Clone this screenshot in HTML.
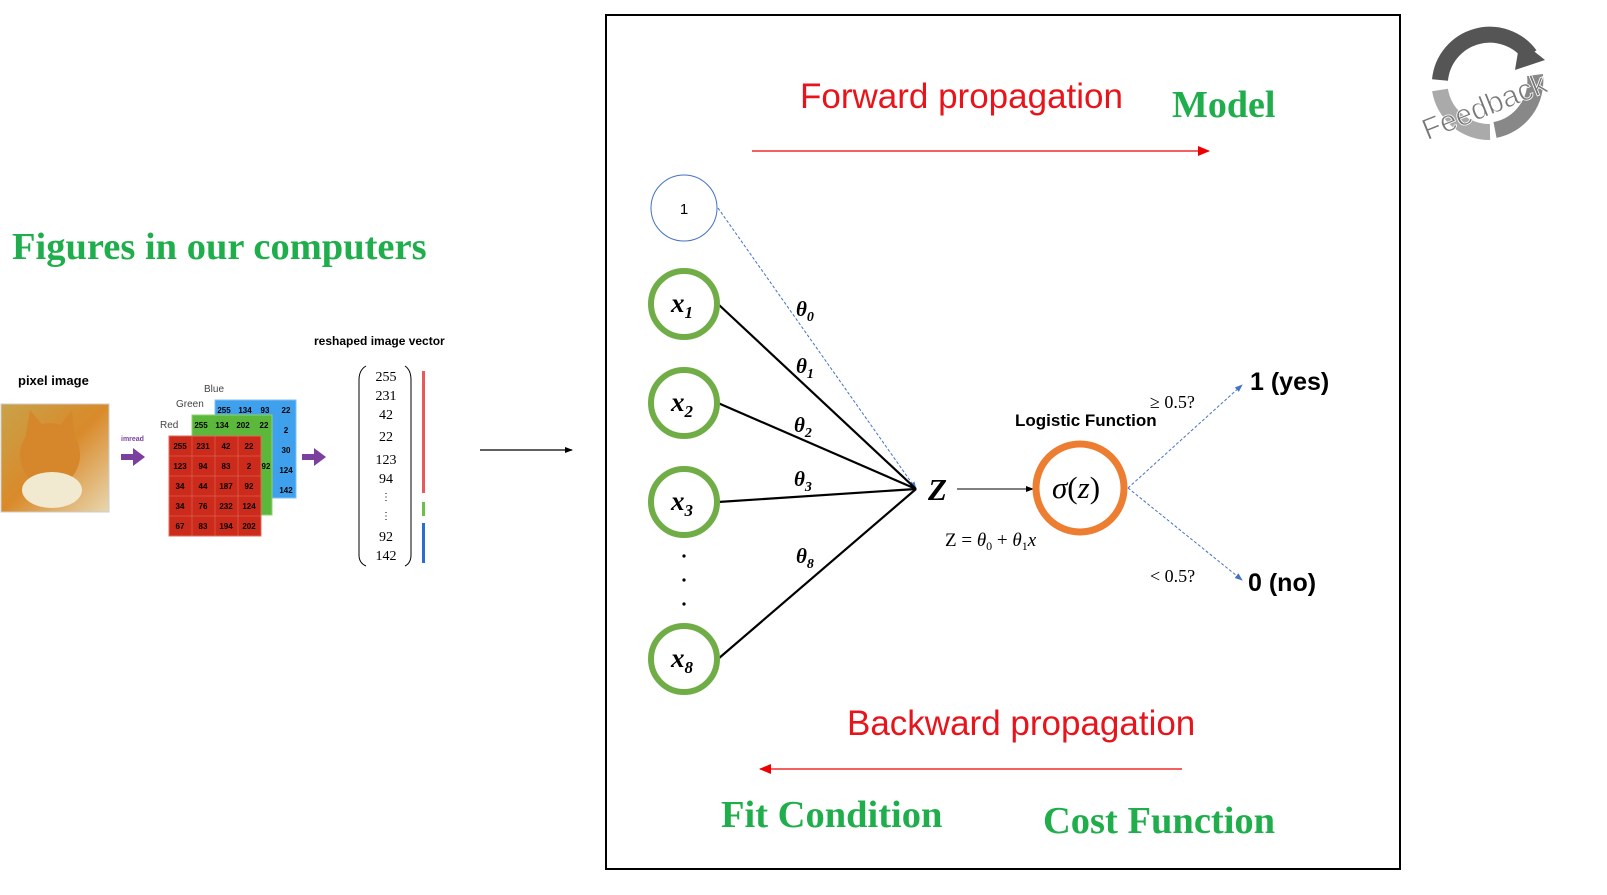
<!DOCTYPE html>
<html><head><meta charset="utf-8"><style>
body{margin:0;background:#fff;}
svg{display:block;}
</style></head><body>
<svg width="1607" height="895" viewBox="0 0 1607 895" xmlns="http://www.w3.org/2000/svg" font-family="Liberation Sans, sans-serif">
<defs>
<marker id="ab" markerWidth="8" markerHeight="8" refX="7" refY="4" orient="auto" markerUnits="userSpaceOnUse"><path d="M0,1 L8,4 L0,7 z" fill="#000"/></marker>
<marker id="ar" markerWidth="12" markerHeight="10" refX="11" refY="5" orient="auto" markerUnits="userSpaceOnUse"><path d="M0,0 L12,5 L0,10 z" fill="#e00"/></marker>
<marker id="abl" markerWidth="8" markerHeight="8" refX="7" refY="4" orient="auto" markerUnits="userSpaceOnUse"><path d="M0,1 L8,4 L0,7 z" fill="#4472c4"/></marker>
<linearGradient id="cat" x1="0" y1="0" x2="1" y2="1"><stop offset="0" stop-color="#c9a24a"/><stop offset="0.5" stop-color="#d98a2a"/><stop offset="1" stop-color="#e8d7b0"/></linearGradient>
</defs>

<text x="12" y="259" font-family="Liberation Serif, serif" font-weight="bold" font-size="38.5" fill="#1fae4b">Figures in our computers</text>

<text x="18" y="385" font-size="13" font-weight="bold">pixel image</text>
<rect x="1" y="404" width="108" height="108" fill="url(#cat)" stroke="#ccc"/>
<ellipse cx="50" cy="455" rx="30" ry="32" fill="#d7872b"/>
<path d="M25,440 L30,410 L45,428z M75,440 L72,410 L58,428z" fill="#d7872b"/>
<ellipse cx="52" cy="490" rx="30" ry="18" fill="#f2ead0"/>
<text x="121" y="441" font-size="7" font-weight="bold" fill="#7b3fa0">imread</text>
<path d="M121,454 h12 v-6 l12,9 l-12,9 v-6 h-12z" fill="#7b3fa0"/>
<path d="M302,454 h12 v-6 l12,9 l-12,9 v-6 h-12z" fill="#7b3fa0"/>

<text x="204" y="392" font-size="10" fill="#444">Blue</text>
<text x="176" y="407" font-size="10" fill="#444">Green</text>
<text x="160" y="428" font-size="10" fill="#444">Red</text>
<g font-size="8" font-weight="bold" text-anchor="middle">
<rect x="215" y="400" width="81" height="98" fill="#3fa0ee" stroke="#7fc0f5"/>
<text x="224" y="413">255</text><text x="245" y="413">134</text><text x="265" y="413">93</text><text x="286" y="413">22</text>
<text x="286" y="433">2</text><text x="286" y="453">30</text><text x="286" y="473">124</text><text x="286" y="493">142</text>
<rect x="192" y="415" width="80" height="100" fill="#5cb83a" stroke="#8fd070"/>
<text x="201" y="428">255</text><text x="222" y="428">134</text><text x="243" y="428">202</text><text x="264" y="428">22</text>
<text x="266" y="469">92</text>
<rect x="169" y="436" width="92" height="100" fill="#cc2a1a" stroke="#e06a5a"/>
<g stroke="#e07060" stroke-width="0.6"><line x1="192" y1="436" x2="192" y2="536"/><line x1="215" y1="436" x2="215" y2="536"/><line x1="238" y1="436" x2="238" y2="536"/>
<line x1="169" y1="456" x2="261" y2="456"/><line x1="169" y1="476" x2="261" y2="476"/><line x1="169" y1="496" x2="261" y2="496"/><line x1="169" y1="516" x2="261" y2="516"/></g>
<text x="180" y="449">255</text><text x="203" y="449">231</text><text x="226" y="449">42</text><text x="249" y="449">22</text>
<text x="180" y="469">123</text><text x="203" y="469">94</text><text x="226" y="469">83</text><text x="249" y="469">2</text>
<text x="180" y="489">34</text><text x="203" y="489">44</text><text x="226" y="489">187</text><text x="249" y="489">92</text>
<text x="180" y="509">34</text><text x="203" y="509">76</text><text x="226" y="509">232</text><text x="249" y="509">124</text>
<text x="180" y="529">67</text><text x="203" y="529">83</text><text x="226" y="529">194</text><text x="249" y="529">202</text>
</g>

<text x="314" y="345" font-size="12" font-weight="bold">reshaped image vector</text>
<path d="M366,366 Q359,370 359,380 V555 Q359,563 366,566" fill="none" stroke="#000"/>
<path d="M405,366 Q411,370 411,380 V555 Q411,563 405,566" fill="none" stroke="#000"/>
<g font-family="Liberation Serif, serif" font-size="14" text-anchor="middle">
<text x="386" y="381">255</text><text x="386" y="400">231</text><text x="386" y="419">42</text><text x="386" y="441">22</text>
<text x="386" y="464">123</text><text x="386" y="483">94</text><text x="386" y="541">92</text><text x="386" y="560">142</text>
<text x="386" y="500" font-size="10">⋮</text><text x="386" y="519" font-size="10">⋮</text>
</g>
<rect x="422" y="371" width="3" height="122" fill="#e85a5a"/>
<rect x="422" y="502" width="3" height="14" fill="#6cc04a"/>
<rect x="422" y="523" width="3" height="40" fill="#2a6ecf"/>

<line x1="480" y1="450" x2="572" y2="450" stroke="#000" stroke-width="1.3" marker-end="url(#ab)"/>

<rect x="606" y="15" width="794" height="854" fill="none" stroke="#000" stroke-width="2"/>

<text x="800" y="108" font-size="35" fill="#e8141c">Forward propagation</text>
<text x="1172" y="117" font-family="Liberation Serif, serif" font-weight="bold" font-size="38" fill="#1fae4b">Model</text>
<line x1="752" y1="151" x2="1209" y2="151" stroke="#e00" stroke-width="1.2" marker-end="url(#ar)"/>

<text x="847" y="735" font-size="35" fill="#e8141c">Backward propagation</text>
<line x1="1182" y1="769" x2="760" y2="769" stroke="#e00" stroke-width="1.2" marker-end="url(#ar)"/>
<text x="721" y="827" font-family="Liberation Serif, serif" font-weight="bold" font-size="38.5" fill="#1fae4b">Fit Condition</text>
<text x="1043" y="833" font-family="Liberation Serif, serif" font-weight="bold" font-size="38.5" fill="#1fae4b">Cost Function</text>

<line x1="718" y1="208" x2="916" y2="489" stroke="#4472c4" stroke-width="1" stroke-dasharray="3,2" marker-end="url(#abl)"/>
<g stroke="#000" stroke-width="2.2">
<line x1="718" y1="304" x2="916" y2="489"/>
<line x1="718" y1="403" x2="916" y2="489"/>
<line x1="718" y1="502" x2="916" y2="489"/>
<line x1="718" y1="659" x2="916" y2="489"/>
</g>
<g font-family="Liberation Serif, serif" font-style="italic" font-weight="bold" font-size="21">
<text x="796" y="316">θ<tspan font-size="14" dy="5">0</tspan></text>
<text x="796" y="373">θ<tspan font-size="14" dy="5">1</tspan></text>
<text x="794" y="432">θ<tspan font-size="14" dy="5">2</tspan></text>
<text x="794" y="486">θ<tspan font-size="14" dy="5">3</tspan></text>
<text x="796" y="563">θ<tspan font-size="14" dy="5">8</tspan></text>
</g>

<circle cx="684" cy="208" r="33" fill="#fff" stroke="#4472c4" stroke-width="1"/>
<text x="684" y="214" font-size="15" text-anchor="middle">1</text>
<g fill="#fff" stroke="#70ad47" stroke-width="6">
<circle cx="684" cy="304" r="33"/><circle cx="684" cy="403" r="33"/><circle cx="684" cy="502" r="33"/><circle cx="684" cy="659" r="33"/>
</g>
<g font-family="Liberation Serif, serif" font-style="italic" font-weight="bold" font-size="27" text-anchor="middle">
<text x="682" y="312">x<tspan font-size="17" dy="6">1</tspan></text>
<text x="682" y="411">x<tspan font-size="17" dy="6">2</tspan></text>
<text x="682" y="510">x<tspan font-size="17" dy="6">3</tspan></text>
<text x="682" y="667">x<tspan font-size="17" dy="6">8</tspan></text>
</g>
<g fill="#000"><circle cx="684" cy="556" r="1.6"/><circle cx="684" cy="580" r="1.6"/><circle cx="684" cy="604" r="1.6"/></g>

<text x="928" y="500" font-family="Liberation Serif, serif" font-style="italic" font-weight="bold" font-size="31">Z</text>
<line x1="957" y1="489" x2="1033" y2="489" stroke="#000" stroke-width="1" marker-end="url(#ab)"/>
<text x="945" y="546" font-size="19" font-family="Liberation Serif, serif">Z = <tspan font-style="italic">θ</tspan><tspan font-size="12" dy="4">0</tspan><tspan dy="-4"> + </tspan><tspan font-style="italic">θ</tspan><tspan font-size="12" dy="4">1</tspan><tspan dy="-4" font-style="italic">x</tspan></text>

<circle cx="1080" cy="488" r="44" fill="#fff" stroke="#ed7d31" stroke-width="7"/>
<text x="1076" y="498" font-family="Liberation Serif, serif" font-size="31" text-anchor="middle"><tspan font-style="italic">σ</tspan>(<tspan font-style="italic">z</tspan>)</text>
<text x="1015" y="426" font-size="17" font-weight="bold">Logistic Function</text>

<line x1="1128" y1="488" x2="1242" y2="385" stroke="#4472c4" stroke-dasharray="3,2" marker-end="url(#abl)"/>
<line x1="1128" y1="488" x2="1242" y2="580" stroke="#4472c4" stroke-dasharray="3,2" marker-end="url(#abl)"/>
<text x="1150" y="408" font-family="Liberation Serif, serif" font-size="18">≥ 0.5?</text>
<text x="1150" y="582" font-family="Liberation Serif, serif" font-size="18">&lt; 0.5?</text>
<text x="1250" y="390" font-size="25" font-weight="bold">1 (yes)</text>
<text x="1248" y="591" font-size="25" font-weight="bold">0 (no)</text>

<path d="M1440,80 A50,50 0 0 1 1530,55" fill="none" stroke="#555" stroke-width="16"/>
<path d="M1520,40 L1545,60 L1515,70z" fill="#555"/>
<path d="M1535,75 A50,50 0 0 1 1495,130" fill="none" stroke="#888" stroke-width="16"/>
<path d="M1440,90 A50,50 0 0 0 1490,132" fill="none" stroke="#aaa" stroke-width="16"/>
<text x="1412" y="117" font-size="30" fill="#777" stroke="#fff" stroke-width="0.8" transform="rotate(-22 1480 90)">Feedback</text>
</svg>
</body></html>
